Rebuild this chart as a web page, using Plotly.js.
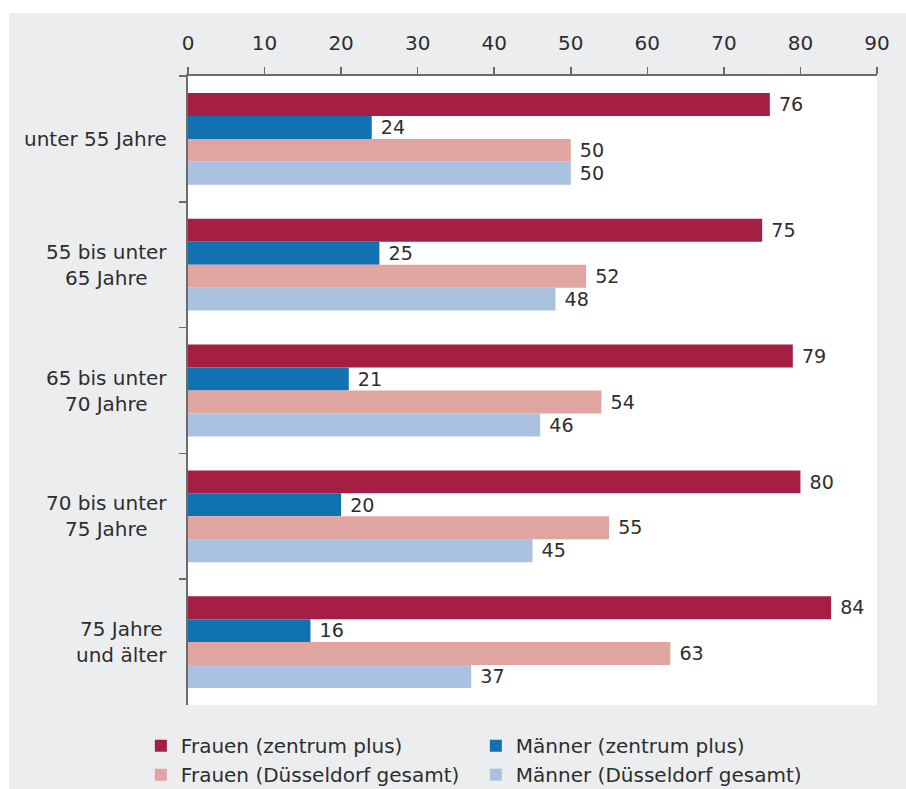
<!DOCTYPE html>
<html>
<head>
<meta charset="utf-8">
<script src="https://cdn.plot.ly/plotly-3.0.1.min.js"></script>
<style>
  html, body { margin: 0; padding: 0; background: #ffffff; }
  #chart { position: absolute; left: 9px; top: 13px; width: 897px; height: 776px; }
</style>
</head>
<body>
<div id="chart"></div>
<script>
// Categories (age groups)
const categories = [
  "unter 55 Jahre",
  "55 bis unter<br>65 Jahre",
  "65 bis unter<br>70 Jahre",
  "70 bis unter<br>75 Jahre",
  "75 Jahre<br>und älter"
];
const catKeys = ["c1", "c2", "c3", "c4", "c5"];

// Series values (percent)
const frauenZentrumPlus = [76, 75, 79, 80, 84];
const maennerZentrumPlus = [24, 25, 21, 20, 16];
const frauenDuesseldorf = [50, 52, 54, 55, 63];
const maennerDuesseldorf = [50, 48, 46, 45, 37];

const seriesNames = [
  "Frauen (zentrum plus)",
  "Männer (zentrum plus)",
  "Frauen (Düsseldorf gesamt)",
  "Männer (Düsseldorf gesamt)"
];
const seriesValues = [frauenZentrumPlus, maennerZentrumPlus, frauenDuesseldorf, maennerDuesseldorf];
const seriesColors = ["#A51E43", "#1072B0", "#E0A4A1", "#ABC1E0"];

const xTickVals = [0, 10, 20, 30, 40, 50, 60, 70, 80, 90];

const FONT = "DejaVu Sans, sans-serif";
const TXT = "#2e2e2e";
const AXIS = "#6b6b6b";

const traces = seriesValues.map((vals, i) => ({
  type: "bar",
  orientation: "h",
  name: seriesNames[i],
  x: vals,
  y: catKeys,
  marker: { color: seriesColors[i] },
  text: vals.map(v => "\u00a0" + v),
  textposition: "outside",
  cliponaxis: false,
  textfont: { family: FONT, size: 20, color: TXT },
  hoverinfo: "x+name"
}));

const annotations = catKeys.map((k, i) => ({
  xref: "paper", yref: "y",
  x: -0.027, y: k,
  xanchor: "right", yanchor: "middle",
  align: "center",
  text: categories[i],
  showarrow: false,
  font: { family: FONT, size: 20, color: TXT }
}));

const layout = {
  width: 897,
  height: 776,
  paper_bgcolor: "#ECEDEF",
  plot_bgcolor: "#ffffff",
  margin: { l: 179, r: 29, t: 63, b: 84, pad: 0 },
  barmode: "group",
  bargap: 0.27,
  bargroupgap: 0,
  font: { family: FONT, size: 20, color: TXT },
  showlegend: true,
  legend: {
    orientation: "h",
    xref: "container", yref: "container",
    x: 0.147, xanchor: "left",
    y: 0.081, yanchor: "top",
    entrywidth: 290,
    font: { family: FONT, size: 20, color: TXT },
    bgcolor: "rgba(0,0,0,0)",
    traceorder: "normal"
  },
  xaxis: {
    side: "top",
    range: [0, 90],
    tickvals: xTickVals,
    ticktext: xTickVals.map(String),
    ticks: "outside",
    ticklen: 7,
    tickwidth: 1.5,
    tickcolor: AXIS,
    ticklabelstandoff: 9,
    showline: true,
    linecolor: AXIS,
    linewidth: 2,
    showgrid: false,
    zeroline: false,
    tickfont: { family: FONT, size: 20, color: TXT },
    fixedrange: true
  },
  yaxis: {
    type: "category",
    categoryorder: "array",
    categoryarray: catKeys,
    autorange: "reversed",
    tickson: "boundaries",
    ticks: "outside",
    ticklen: 7,
    tickwidth: 1.5,
    tickcolor: AXIS,
    showline: true,
    linecolor: AXIS,
    linewidth: 2,
    showgrid: false,
    zeroline: false,
    showticklabels: false,
    fixedrange: true
  },
  annotations: annotations
};

Plotly.newPlot("chart", traces, layout, { displayModeBar: false, staticPlot: true });
</script>
</body>
</html>
